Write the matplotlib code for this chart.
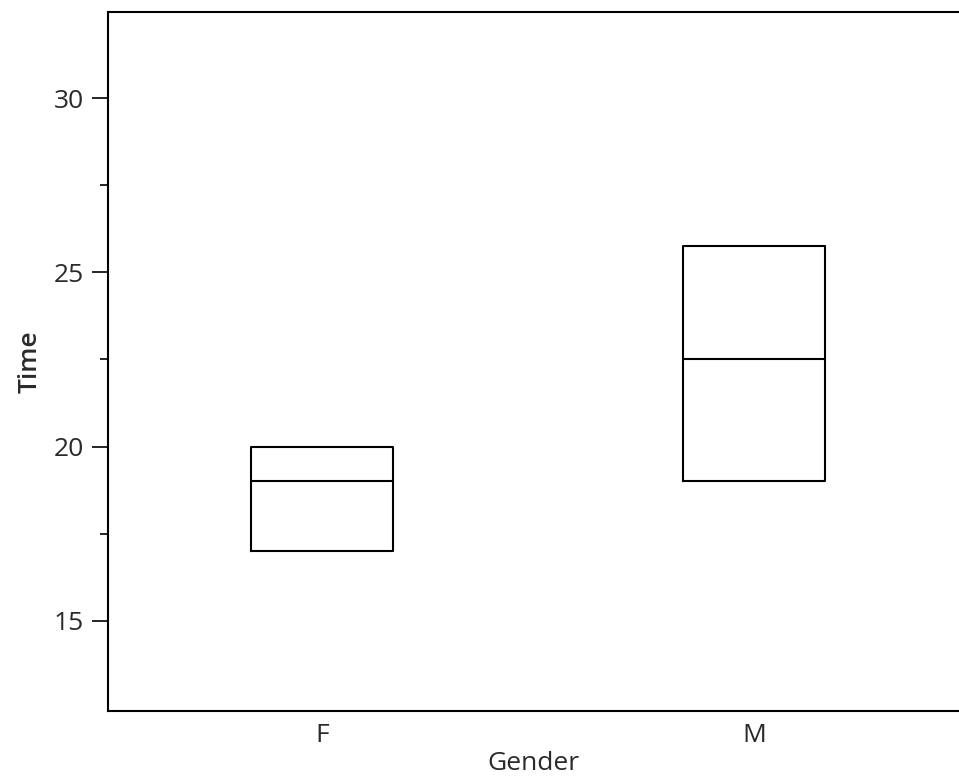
import matplotlib
matplotlib.use("Agg")
from matplotlib import pyplot as plt
from matplotlib.ticker import MultipleLocator, FixedLocator

# box data
genders = ["F", "M"]
q1 = [17.0, 19.0]
med = [19.0, 22.5]
q3 = [20.0, 25.75]

plt.rcParams['font.family'] = ['Open Sans', 'DejaVu Sans']
text_col = "#2a2a2a"

fig = plt.figure(figsize=(9.59, 7.79), dpi=100)
ax = fig.add_axes([0.1126, 0.0873, 0.8874, 0.8973])

stats = []
for g, a, m, b in zip(genders, q1, med, q3):
    stats.append(dict(label=g, q1=a, med=m, q3=b, whislo=a, whishi=b, fliers=[]))

ax.bxp(stats, positions=[0, 1], widths=0.33, showcaps=False, showfliers=False,
       boxprops=dict(color="black", linewidth=1.5),
       medianprops=dict(color="black", linewidth=1.5),
       whiskerprops=dict(color="black", linewidth=1.5))

ax.set_xlim(-0.495, 1.4745)
ax.set_ylim(12.41, 32.47)
ax.yaxis.set_major_locator(MultipleLocator(5))
ax.yaxis.set_minor_locator(FixedLocator([17.5, 22.5, 27.5]))
ax.tick_params(axis="y", which="major", length=11.5, width=1.2, pad=6, labelsize=19, labelcolor=text_col)
ax.tick_params(axis="y", which="minor", length=6, width=1.2)
ax.tick_params(axis="x", length=0, pad=9, labelsize=19, labelcolor=text_col)

for s in ["left", "bottom", "top"]:
    ax.spines[s].set_linewidth(1.5)
ax.spines["right"].set_visible(False)

ax.set_xlabel("Gender", fontsize=19, color=text_col, labelpad=2)
ax.set_ylabel("Time", fontsize=19, color=text_col, labelpad=8, fontweight="semibold")

fig.savefig("out.png", dpi=100)
